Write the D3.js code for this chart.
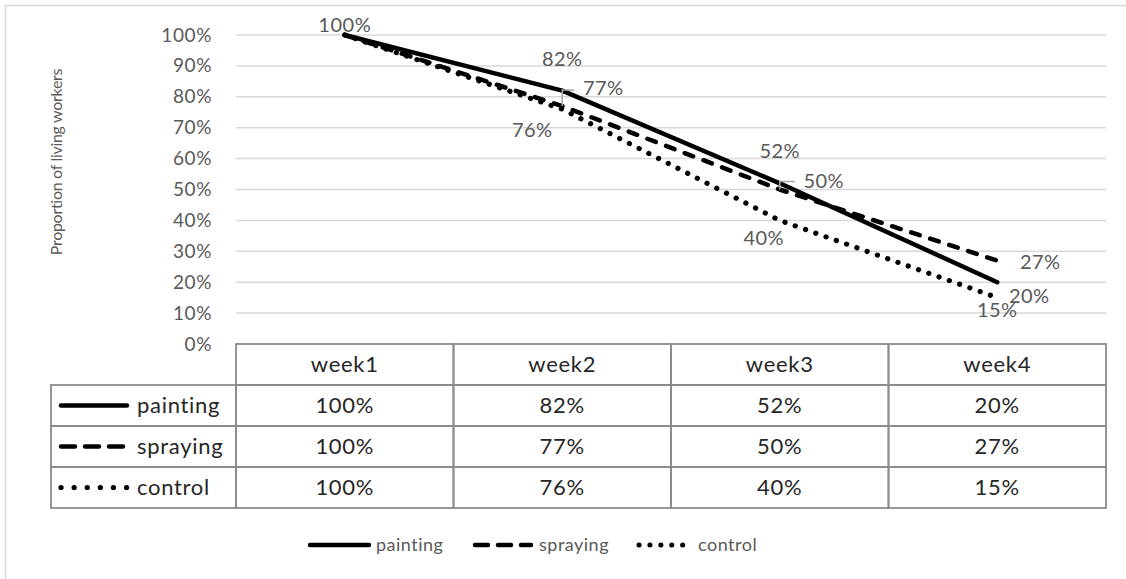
<!DOCTYPE html>
<html>
<head>
<meta charset="utf-8">
<script src="https://cdn.jsdelivr.net/npm/d3@7"></script>
<style>
  html, body { margin: 0; padding: 0; background: #fff; }
  svg { display: block; }
  text { font-family: Lato, "Open Sans", sans-serif; }
</style>
</head>
<body>
<svg id="chart" width="1126" height="579"></svg>
<script>
// Survival of workers by treatment, weekly
const weeks = ["week1", "week2", "week3", "week4"];
const seriesNames = ["painting", "spraying", "control"];
const painting = [1.00, 0.82, 0.52, 0.20];
const spraying = [1.00, 0.77, 0.50, 0.27];
const control  = [1.00, 0.76, 0.40, 0.15];
const yTicks = [0, 0.1, 0.2, 0.3, 0.4, 0.5, 0.6, 0.7, 0.8, 0.9, 1.0];
const yTitle = "Proportion of living workers";

const seriesValues = [painting, spraying, control];

// line styles per series
const styles = [
  { dash: null, width: 4.5 },
  { dash: "9,11", width: 4.5 },
  { dash: "0.1,10.8", width: 5.2 }
];

// where each value label sits relative to its point: [dx, dy] or null (no label)
const labelPlacement = [
  [[0, -3], [0, -25], [0, -25], [32, 21]],
  [null, [41, -11], [44, -1.5], [43, 8]],
  [null, [-30, 28], [-16, 25], [0, 19]]
];
// small leader lines tying a moved label back to its point
const leaders = [
  { s: 1, i: 1, up: 16, right: 12 },
  { s: 1, i: 2, up: 8, right: 15 }
];

const svg = d3.select("#chart");
const fmt = d3.format(".0%");

const plot = { left: 236, right: 1106, top: 35, bottom: 344 };

const x = d3.scalePoint().domain(weeks).range([plot.left, plot.right]).padding(0.5);
const y = d3.scaleLinear().domain([0, 1]).range([plot.bottom, plot.top]);

// outer frame
svg.append("rect")
  .attr("x", 5.5).attr("y", 5.5).attr("width", 1140).attr("height", 600)
  .attr("fill", "none").attr("stroke", "#d9d9d9").attr("stroke-width", 1.5);

// gridlines
svg.append("g")
  .selectAll("line")
  .data(yTicks.filter(d => d > 0))
  .join("line")
  .attr("x1", plot.left).attr("x2", plot.right)
  .attr("y1", d => y(d)).attr("y2", d => y(d))
  .attr("stroke", "#d9d9d9").attr("stroke-width", 1.5);

// y axis labels
const yAxis = d3.axisLeft(y).tickValues(yTicks).tickFormat(fmt).tickSize(0).tickPadding(24);
const yAxisG = svg.append("g").attr("transform", `translate(${plot.left},0)`).call(yAxis);
yAxisG.select(".domain").remove();
yAxisG.selectAll("text")
  .attr("fill", "#595959")
  .style("font-size", "19px")
  .style("letter-spacing", "0.6px")
  .style("font-family", "Lato, sans-serif");

// y title
svg.append("text")
  .attr("transform", "translate(62,162) rotate(-90)")
  .attr("text-anchor", "middle")
  .attr("fill", "#595959")
  .style("font-size", "16px")
  .style("letter-spacing", "-0.3px")
  .text(yTitle);

// series lines
const line = d3.line().x((d, i) => x(weeks[i])).y(d => y(d));
seriesValues.forEach((vals, s) => {
  svg.append("path")
    .datum(vals)
    .attr("d", line)
    .attr("fill", "none")
    .attr("stroke", "#000")
    .attr("stroke-width", styles[s].width)
    .attr("stroke-linecap", "round")
    .attr("stroke-linejoin", "round")
    .attr("stroke-dasharray", styles[s].dash);
});

// leader lines
leaders.forEach(l => {
  const px = x(weeks[l.i]);
  const py = y(seriesValues[l.s][l.i]);
  svg.append("path")
    .attr("d", `M${px},${py}V${py - l.up}H${px + l.right}`)
    .attr("fill", "none")
    .attr("stroke", "#a6a6a6")
    .attr("stroke-width", 1.5);
});

// value labels
seriesValues.forEach((vals, s) => {
  vals.forEach((v, i) => {
    const p = labelPlacement[s][i];
    if (!p) return;
    svg.append("text")
      .attr("x", x(weeks[i]) + p[0])
      .attr("y", y(v) + p[1])
      .attr("text-anchor", "middle")
      .attr("fill", "#595959")
      .style("font-size", "20px")
      .style("letter-spacing", "0.5px")
      .text(fmt(v));
  });
});

// data table under the plot
const tableLeft = 51;
const rowBand = d3.scaleBand().domain(["header", ...seriesNames]).range([plot.bottom, 508]);
const colBand = d3.scaleBand().domain(weeks).range([plot.left, plot.right]);
const tbl = svg.append("g");
const borderColor = "#8c8c8c";
const tableFont = "22px";
const tableSpacing = "0.7px";

// header cells
tbl.selectAll("rect.head")
  .data(weeks)
  .join("rect")
  .attr("x", d => colBand(d)).attr("y", rowBand("header"))
  .attr("width", colBand.bandwidth()).attr("height", rowBand.bandwidth())
  .attr("fill", "none").attr("stroke", borderColor).attr("stroke-width", 1.8);
tbl.selectAll("text.head")
  .data(weeks)
  .join("text")
  .attr("x", d => colBand(d) + colBand.bandwidth() / 2)
  .attr("y", rowBand("header") + rowBand.bandwidth() / 2)
  .attr("dy", "0.35em")
  .attr("text-anchor", "middle")
  .attr("fill", "#262626")
  .style("font-size", tableFont)
  .style("letter-spacing", tableSpacing)
  .text(d => d);

// body rows
seriesNames.forEach((name, s) => {
  const ry = rowBand(name);
  const h = rowBand.bandwidth();
  const cy = ry + h / 2;
  // legend cell
  tbl.append("rect")
    .attr("x", tableLeft).attr("y", ry)
    .attr("width", plot.left - tableLeft).attr("height", h)
    .attr("fill", "none").attr("stroke", borderColor).attr("stroke-width", 1.8);
  tbl.append("line")
    .attr("x1", 61).attr("x2", 127).attr("y1", cy).attr("y2", cy)
    .attr("stroke", "#000").attr("stroke-width", s === 2 ? 5.2 : 4.5)
    .attr("stroke-linecap", "round")
    .attr("stroke-dasharray", s === 1 ? "14,10" : s === 2 ? "0.1,13" : null);
  tbl.append("text")
    .attr("x", 137).attr("y", cy).attr("dy", "0.35em")
    .attr("fill", "#262626")
    .style("font-size", tableFont)
    .style("letter-spacing", tableSpacing)
    .text(name);
  weeks.forEach((w, i) => {
    tbl.append("rect")
      .attr("x", colBand(w)).attr("y", ry)
      .attr("width", colBand.bandwidth()).attr("height", h)
      .attr("fill", "none").attr("stroke", borderColor).attr("stroke-width", 1.8);
    tbl.append("text")
      .attr("x", colBand(w) + colBand.bandwidth() / 2)
      .attr("y", cy).attr("dy", "0.35em")
      .attr("text-anchor", "middle")
      .attr("fill", "#262626")
      .style("font-size", tableFont)
      .style("letter-spacing", tableSpacing)
      .text(fmt(seriesValues[s][i]));
  });
});

// bottom legend
const legendItems = [
  { name: "painting", x1: 310, x2: 369, tx: 376, dash: null },
  { name: "spraying", x1: 475, x2: 531, tx: 539, dash: "13,10" },
  { name: "control", x1: 639, x2: 693, tx: 698, dash: "0.1,10.8" }
];
const lg = svg.append("g");
legendItems.forEach((d, s) => {
  lg.append("line")
    .attr("x1", d.x1).attr("x2", d.x2).attr("y1", 545).attr("y2", 545)
    .attr("stroke", "#000").attr("stroke-width", s === 2 ? 5 : 4.5)
    .attr("stroke-linecap", "round")
    .attr("stroke-dasharray", d.dash);
  lg.append("text")
    .attr("x", d.tx).attr("y", 545).attr("dy", "0.35em")
    .attr("fill", "#595959")
    .style("font-size", "18px")
    .style("letter-spacing", "0.5px")
    .text(d.name);
});
</script>
</body>
</html>
